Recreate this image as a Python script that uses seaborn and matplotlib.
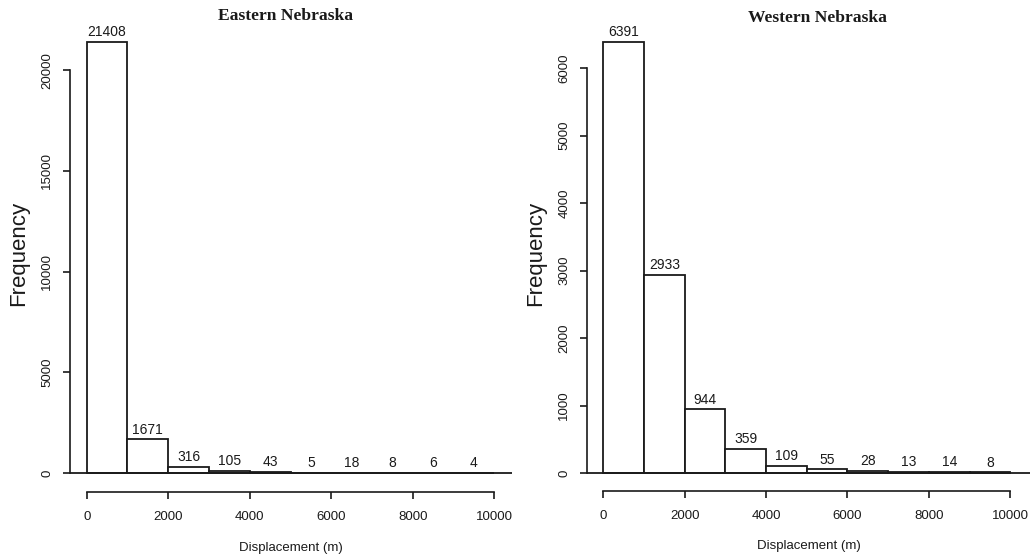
import numpy as np
import matplotlib
matplotlib.use("Agg")
import matplotlib.pyplot as plt
import seaborn as sns

# ---- data ----
bin_edges = [0, 1000, 2000, 3000, 4000, 5000, 6000, 7000, 8000, 9000, 10000]
east_counts = [21408, 1671, 316, 105, 43, 5, 18, 8, 6, 4]
west_counts = [6391, 2933, 944, 359, 109, 55, 28, 13, 14, 8]
east_title = "Eastern Nebraska"
west_title = "Western Nebraska"
x_label = "Displacement (m)"
y_label = "Frequency"
x_ticks = [0, 2000, 4000, 6000, 8000, 10000]
east_yticks = [0, 5000, 10000, 15000, 20000]
west_yticks = [0, 1000, 2000, 3000, 4000, 5000, 6000]

sns.set_theme(style="white")
plt.rcParams["font.family"] = ["Liberation Sans", "DejaVu Sans"]

W, H = 1030, 560
fig = plt.figure(figsize=(W / 100, H / 100), dpi=100)


def make_axes(left_px, right_px, bottom_px, top_px):
    return fig.add_axes([left_px / W, 1 - bottom_px / H,
                         (right_px - left_px) / W, (bottom_px - top_px) / H])


def draw(ax, counts, title, yticks, xlim, ylim, ylabel_x_px, title_xy):
    centers = [(a + b) / 2 for a, b in zip(bin_edges[:-1], bin_edges[1:])]
    sns.histplot(x=centers, weights=counts, bins=bin_edges, ax=ax,
                 color="white", edgecolor="#1a1a1a", linewidth=1.3,
                 alpha=1.0, stat="count")
    ax.axhline(0, color="#1a1a1a", linewidth=1.3, zorder=3)
    for c, v in zip(centers, counts):
        ax.annotate(str(v), xy=(c, v), xytext=(0, 2), textcoords="offset points",
                    ha="center", va="bottom", fontsize=10, color="#1a1a1a")
    ax.set_xlim(*xlim)
    ax.set_ylim(*ylim)
    ax.set_xticks(x_ticks)
    ax.set_xticklabels([str(t) for t in x_ticks], fontsize=9.5)
    ax.set_yticks(yticks)
    ax.set_yticklabels([str(t) for t in yticks], fontsize=9.5, rotation=90,
                       va="center")
    ax.spines["top"].set_visible(False)
    ax.spines["right"].set_visible(False)
    for s in ("left", "bottom"):
        ax.spines[s].set_color("#1a1a1a")
        ax.spines[s].set_linewidth(1.2)
    ax.spines["left"].set_bounds(yticks[0], yticks[-1])
    ax.spines["bottom"].set_bounds(x_ticks[0], x_ticks[-1])
    ax.tick_params(axis="both", which="both", length=5, width=1.2,
                   color="#1a1a1a", direction="out", labelcolor="#1a1a1a",
                   bottom=True, left=True)
    ax.tick_params(axis="x", pad=9)
    ax.tick_params(axis="y", pad=7)
    ax.set_xlabel(x_label, fontsize=9.5, labelpad=13, color="#1a1a1a")
    ax.set_ylabel("")
    fig.text(ylabel_x_px / W, 1 - 253 / H, y_label, rotation=90,
             ha="center", va="center", fontsize=16, color="#1a1a1a")
    fig.text(title_xy[0] / W, 1 - title_xy[1] / H, title, ha="center",
             va="center", fontsize=12.6, fontweight="bold",
             family=["Liberation Serif", "DejaVu Serif"], color="#1a1a1a")
    ax.grid(False)
    ax.set_facecolor("white")


ax1 = make_axes(70, 512, 492, 20)
draw(ax1, east_counts, east_title, east_yticks,
     xlim=(-410, 10434), ylim=(-943, 22490), ylabel_x_px=19,
     title_xy=(286, 16))

ax2 = make_axes(587, 1030, 491, 20)
draw(ax2, west_counts, west_title, west_yticks,
     xlim=(-400, 10484), ylim=(-267, 6716), ylabel_x_px=536,
     title_xy=(817, 18))

fig.savefig("out.png", dpi=100, facecolor="white")
